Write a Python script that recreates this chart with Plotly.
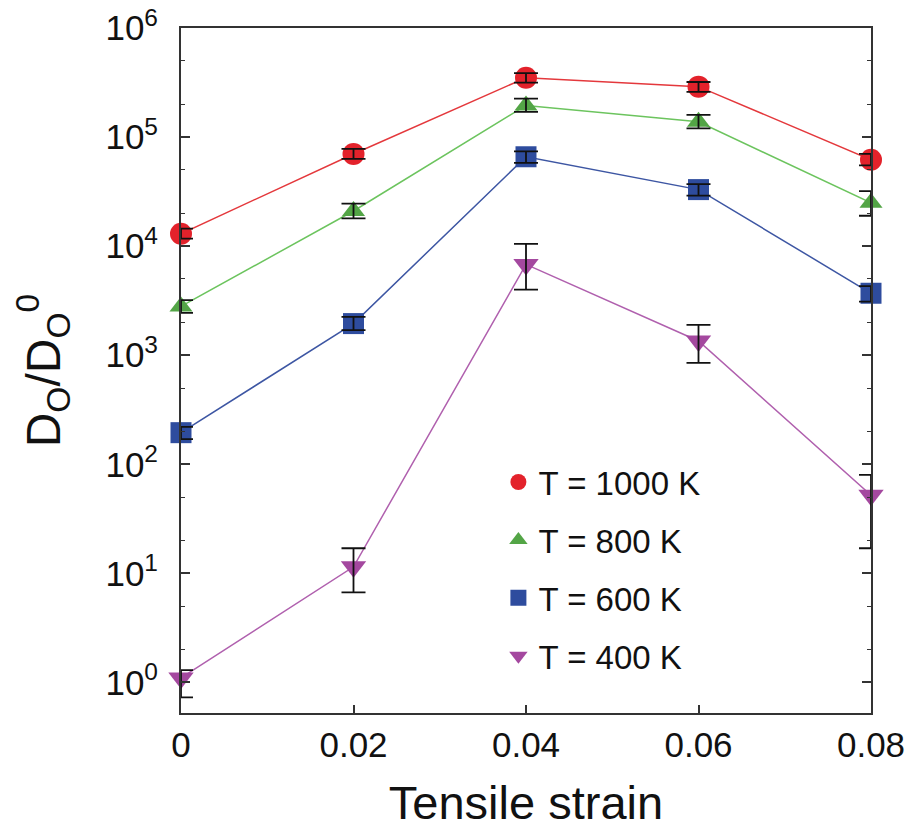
import plotly.graph_objects as go

strain = [0.0, 0.02, 0.04, 0.06, 0.08]

labels = ["T = 1000 K", "T = 800 K", "T = 600 K", "T = 400 K"]

d1000 = [1.3e4, 7.0e4, 3.5e5, 2.9e5, 6.2e4]
d1000_hi = [1.45e4, 7.8e4, 3.85e5, 3.2e5, 7.0e4]
d1000_lo = [1.17e4, 6.3e4, 3.15e5, 2.6e5, 5.5e4]

d800 = [2.8e3, 2.1e4, 1.95e5, 1.38e5, 2.5e4]
d800_hi = [3.2e3, 2.45e4, 2.25e5, 1.6e5, 3.2e4]
d800_lo = [2.45e3, 1.8e4, 1.7e5, 1.2e5, 1.9e4]

d600 = [195, 1.95e3, 6.6e4, 3.3e4, 3.7e3]
d600_hi = [220, 2.25e3, 7.4e4, 3.7e4, 4.3e3]
d600_lo = [170, 1.7e3, 5.8e4, 2.9e4, 3.1e3]

d400 = [1.1, 11.5, 6.8e3, 1.35e3, 52]
d400_hi = [1.3, 17, 1.05e4, 1.9e3, 80]
d400_lo = [0.73, 6.7, 4.0e3, 850, 17]

series = [
    (labels[0], d1000, d1000_hi, d1000_lo, "circle", 22, "#e3222b", "#e4383c"),
    (labels[1], d800, d800_hi, d800_lo, "triangle-up", 20, "#53a546", "#6cc45e"),
    (labels[2], d600, d600_hi, d600_lo, "square", 21, "#2e4c9e", "#3d56a3"),
    (labels[3], d400, d400_hi, d400_lo, "triangle-down", 22, "#a4489f", "#b060ae"),
]

fig = go.Figure()
for i, (name, y, hi, lo, sym, size, mcol, lcol) in enumerate(series):
    fig.add_trace(go.Scatter(
        x=strain, y=y, mode="lines+markers", showlegend=False,
        line=dict(color=lcol, width=1.5),
        marker=dict(symbol=sym, size=size, color=mcol),
        cliponaxis=False,
    ))
    fig.add_trace(go.Scatter(
        x=strain, y=y, mode="markers", showlegend=False,
        marker=dict(size=1, color="rgba(0,0,0,0)"),
        error_y=dict(type="data", symmetric=False,
                     array=[h - v for h, v in zip(hi, y)],
                     arrayminus=[v - l for v, l in zip(y, lo)],
                     color="#111111", thickness=1.8, width=12),
        cliponaxis=False,
    ))

for i, (name, y, hi, lo, sym, size, mcol, lcol) in enumerate(series):
    fig.add_trace(go.Scatter(
        x=[None], y=[None], mode="markers", name=name,
        legendgroup=name,
        marker=dict(symbol=sym, size=size, color=mcol),
    ))

ytickvals = [1, 10, 100, 1e3, 1e4, 1e5, 1e6]
yticktext = ["10<sup>%d</sup>" % k for k in range(7)]

fig.update_layout(
    width=911, height=829,
    margin=dict(l=181, r=40, t=28, b=116),
    paper_bgcolor="white", plot_bgcolor="white",
    font=dict(family="Liberation Sans, Arial, sans-serif", color="#111111"),
    legend=dict(x=0.46, y=0.378, xanchor="left", yanchor="top",
                font=dict(size=33), tracegroupgap=12,
                itemsizing="trace", bgcolor="rgba(0,0,0,0)"),
    xaxis=dict(
        range=[0, 0.08], tickvals=strain, ticktext=["0", "0.02", "0.04", "0.06", "0.08"],
        ticks="inside", ticklen=8, tickwidth=1.5, tickcolor="#333333",
        showline=True, linecolor="#333333", linewidth=2, mirror=True,
        showgrid=False, zeroline=False, automargin=False,
        tickfont=dict(size=35), ticklabelstandoff=0,
        title=dict(text="Tensile strain", font=dict(size=47), standoff=32),
    ),
    yaxis=dict(
        type="log", range=[-0.28, 6],
        tickvals=ytickvals, ticktext=yticktext,
        ticks="inside", ticklen=9, tickwidth=1.5, tickcolor="#333333",
        minor=dict(ticks="inside", ticklen=4, dtick="D2", tickcolor="#333333", tickwidth=1.2),
        showline=True, linecolor="#333333", linewidth=2, mirror="ticks",
        showgrid=False, zeroline=False, automargin=False,
        tickfont=dict(size=35), ticklabelstandoff=14,
        title=dict(text="D<sub>O</sub>/D<sub>O</sub><sup>0</sup>", font=dict(size=48), standoff=30),
    ),
)

fig.write_html("out.html")
